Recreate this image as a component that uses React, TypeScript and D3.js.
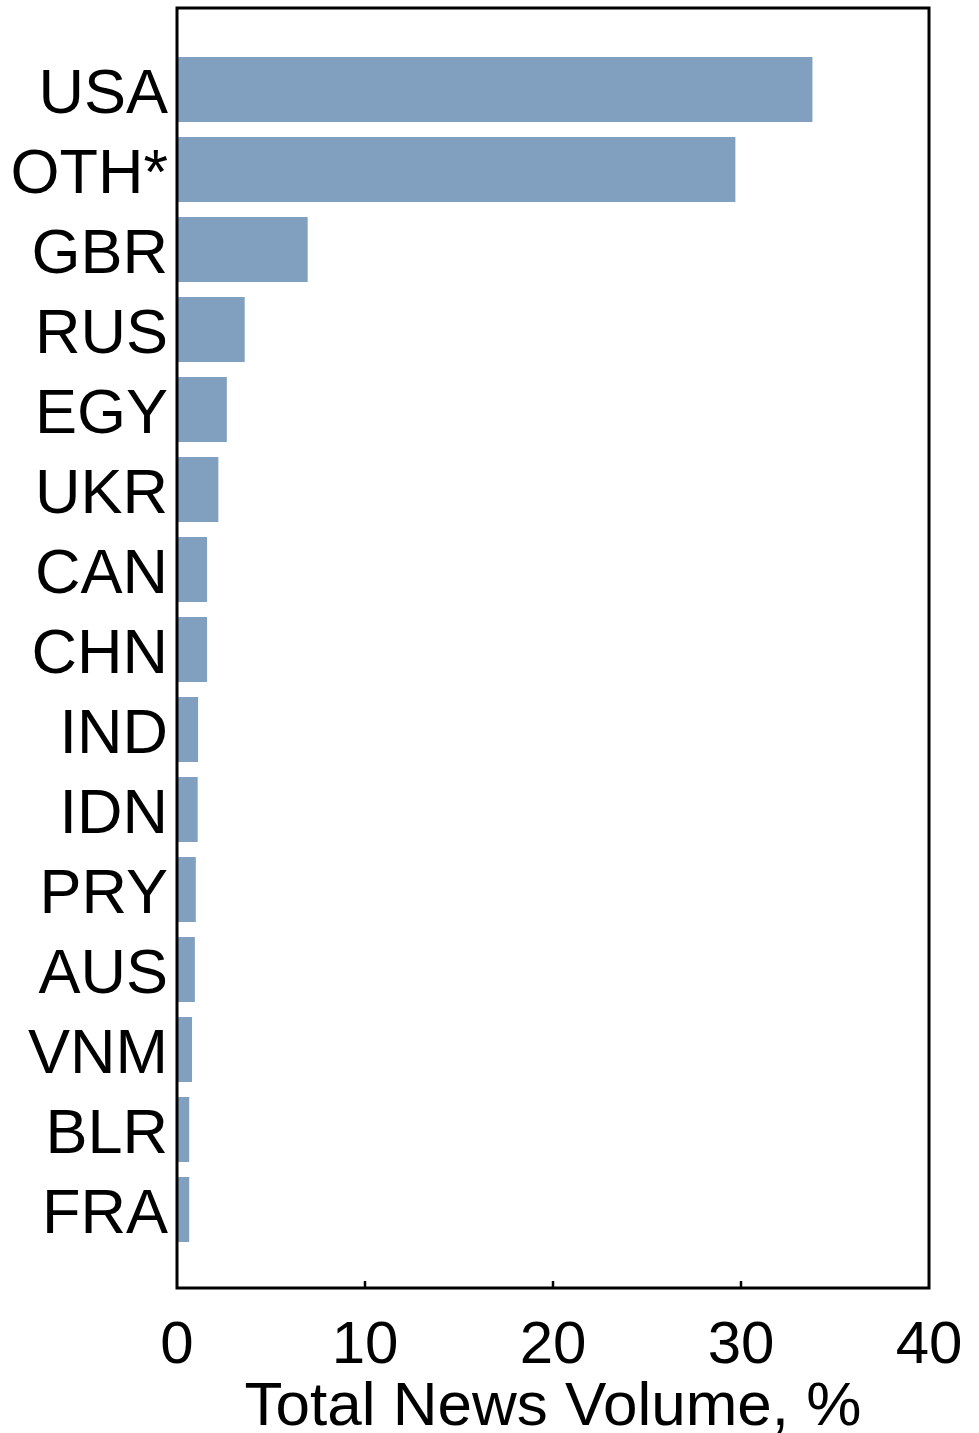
import * as d3 from "d3"
import React from "react"

// Share of total news volume per country (%)
const countries = ["USA", "OTH*", "GBR", "RUS", "EGY", "UKR", "CAN", "CHN", "IND", "IDN", "PRY", "AUS", "VNM", "BLR", "FRA"]
const volumes = [33.8, 29.7, 6.95, 3.6, 2.65, 2.2, 1.6, 1.6, 1.12, 1.1, 1.0, 0.95, 0.8, 0.65, 0.65]
const xTicks = [0, 10, 20, 30, 40]
const xTitle = "Total News Volume, %"

const App = () => {
    const width = 979
    const height = 1433
    const margins = { left: 177, right: 50, top: 8, bottom: 145 }
    const plotRight = width - margins.right
    const plotBottom = height - margins.bottom
    const font = "'Liberation Sans', Arial, sans-serif"

    const scaleX = d3.scaleLinear().domain([0, 40]).range([margins.left, plotRight])
    const scaleY = d3.scaleBand()
        .domain(countries)
        .range([49.5, 1249.5])
        .paddingInner(0.1875)
        .paddingOuter(0.09375)

    return (
        <svg width={width} height={height} style={{ position: "absolute", left: 0, top: 0, background: "#fff" }}>
            {/* bars */}
            {countries.map((c, i) => (
                <rect key={c}
                    x={scaleX(0)}
                    y={scaleY(c)}
                    width={scaleX(volumes[i]) - scaleX(0)}
                    height={scaleY.bandwidth()}
                    fill="#819fbf" />
            ))}
            {/* category labels */}
            {countries.map(c => (
                <text key={"l" + c}
                    x={margins.left - 9}
                    y={(scaleY(c) ?? 0) + scaleY.bandwidth() / 2 + 23}
                    textAnchor="end"
                    fontFamily={font}
                    fontSize={63}
                    fill="#000">{c}</text>
            ))}
            {/* frame */}
            <rect x={margins.left} y={margins.top}
                width={plotRight - margins.left} height={plotBottom - margins.top}
                fill="none" stroke="#000" strokeWidth={3} />
            {/* inward ticks + labels */}
            {xTicks.map(t => (
                <g key={"t" + t}>
                    {t > 0 && t < 40 && (
                        <line x1={scaleX(t)} x2={scaleX(t)} y1={plotBottom} y2={plotBottom - 7}
                            stroke="#000" strokeWidth={2.5} />
                    )}
                    <text x={scaleX(t)} y={1363} textAnchor="middle"
                        fontFamily={font} fontSize={60} fill="#000">{t}</text>
                </g>
            ))}
            <text x={(margins.left + plotRight) / 2} y={1425} textAnchor="middle"
                fontFamily={font} fontSize={62} fill="#000">{xTitle}</text>
        </svg>
    )
}

export default App
